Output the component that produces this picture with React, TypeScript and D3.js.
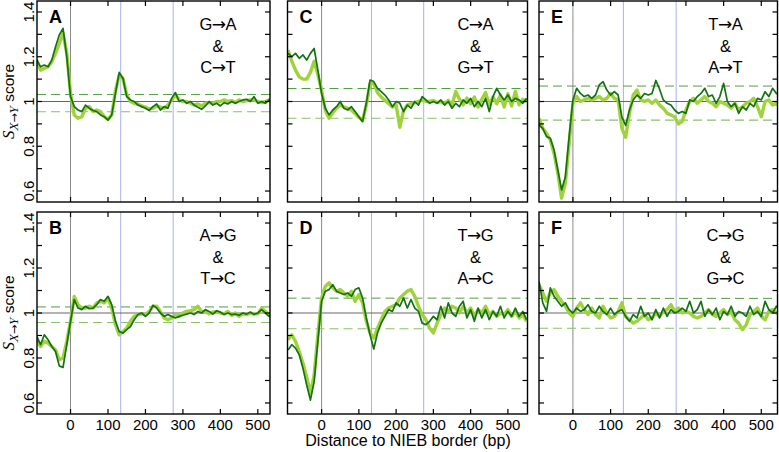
import React from "react";
import * as d3 from "d3";

// ---------- data ----------
const POS = d3.range(-90, 551, 10); // bp positions of the sampled profile

const PANEL_IDS = ["A", "B", "C", "D", "E", "F"];
const MUT_TOP = [["G", "A"], ["A", "G"], ["C", "A"], ["T", "G"], ["T", "A"], ["C", "G"]];
const MUT_BOT = [["C", "T"], ["T", "C"], ["G", "T"], ["A", "C"], ["A", "T"], ["G", "C"]];
const THR_UP = [1.031, 1.027, 1.058, 1.066, 1.069, 1.065];
const THR_LO = [0.954, 0.958, 0.925, 0.93, 0.917, 0.932];
const BLUE_MARKS = [134, 274];
const X_TICKS = [0, 100, 200, 300, 400, 500];
const Y_TICKS = [0.6, 0.7, 0.8, 0.9, 1.0, 1.1, 1.2, 1.3, 1.4];
const Y_LABELS = [0.6, 0.8, 1.0, 1.2, 1.4];

const A_DARK = [
  1.185, 1.155, 1.163, 1.155, 1.185, 1.245, 1.297, 1.327, 1.2, 1.022,
  0.977, 0.962, 0.955, 0.984, 0.97, 0.96, 0.955, 0.94, 0.932, 0.917,
  0.94, 1.036, 1.13, 1.103, 1.022, 1.007, 1.0, 0.984, 0.977, 0.97,
  0.96, 0.977, 0.989, 0.962, 0.977, 0.97, 1.014, 1.04, 1.0, 1.007,
  0.992, 1.0, 0.984, 0.974, 0.965, 0.98, 1.0, 0.984, 0.992, 0.98,
  0.995, 0.989, 1.0, 0.992, 1.0, 1.007, 1.01, 1.0, 1.022, 0.992,
  1.0, 0.992, 1.007, 1.0, 1.0,
];
const A_LIGHT = [
  1.185, 1.14, 1.148, 1.155, 1.178, 1.215, 1.26, 1.305, 1.215, 1.036,
  0.94, 0.925, 0.932, 0.97, 0.977, 0.955, 0.962, 0.955, 0.932, 0.92,
  0.94, 1.05, 1.118, 1.103, 1.03, 1.0, 0.992, 0.989, 0.98, 0.975,
  0.966, 0.97, 0.98, 0.975, 0.97, 0.984, 1.007, 1.03, 1.007, 1.0,
  1.0, 0.992, 0.984, 0.989, 0.98, 0.992, 0.995, 0.992, 1.0, 1.0,
  1.007, 1.0, 1.004, 0.995, 1.007, 1.0, 1.004, 1.007, 1.007, 1.0,
  0.995, 1.0, 1.007, 1.0, 1.0,
];
const B_DARK = [
  0.896, 0.859, 0.903, 0.881, 0.851, 0.829, 0.765, 0.758, 0.859, 0.963,
  1.06, 1.022, 1.015, 1.03, 1.019, 1.022, 1.037, 1.06, 1.052, 1.074,
  1.037, 0.963, 0.918, 0.911, 0.926, 0.94, 0.97, 0.993, 1.0, 0.985,
  1.0, 1.034, 1.022, 1.0, 0.985, 0.993, 0.985, 0.978, 0.985, 0.99,
  0.995, 1.0, 0.993, 1.007, 1.0, 1.015, 1.007, 0.995, 1.01, 1.004,
  0.993, 1.0, 0.993, 0.995, 0.99, 1.0, 0.995, 1.004, 0.993, 1.0,
  1.015, 1.0, 0.985, 0.99, 0.995,
];
const B_LIGHT = [
  0.88, 0.851, 0.874, 0.866, 0.851, 0.836, 0.792, 0.8, 0.874, 0.963,
  1.074, 1.037, 1.022, 1.022, 1.03, 1.022, 1.045, 1.052, 1.045, 1.067,
  1.022, 0.948, 0.903, 0.918, 0.933, 0.963, 0.985, 0.993, 0.996, 0.993,
  1.007, 1.03, 1.03, 1.007, 0.978, 0.97, 0.978, 0.993, 0.985, 1.0,
  1.007, 1.01, 1.015, 1.03, 1.007, 1.007, 0.996, 1.004, 1.007, 1.0,
  0.996, 1.007, 0.99, 1.0, 0.985, 0.996, 0.993, 1.0, 0.996, 0.996,
  1.022, 1.007, 0.993, 0.99, 0.995,
];
const C_DARK = [
  1.215, 1.2, 1.215, 1.193, 1.208, 1.185, 1.215, 1.237, 1.14, 1.036,
  0.97, 0.94, 0.962, 0.977, 1.0, 0.97, 0.962, 0.977, 0.955, 0.932,
  0.91, 0.992, 1.096, 1.089, 1.059, 1.044, 1.029, 1.007, 0.977, 1.0,
  0.992, 0.955, 0.984, 0.97, 1.0, 0.984, 1.022, 1.007, 0.992, 1.0,
  0.992, 1.007, 0.984, 1.0, 0.97, 0.992, 0.977, 1.007, 0.992, 1.014,
  0.977, 1.0, 0.977, 1.014, 0.955, 1.022, 1.059, 1.029, 1.007, 1.029,
  1.0, 1.014, 1.007, 0.992, 1.014,
];
const C_LIGHT = [
  1.23, 1.18, 1.14, 1.11, 1.1, 1.1, 1.13, 1.18, 1.12, 1.05,
  0.96, 0.925, 0.95, 0.97, 0.985, 0.975, 0.97, 0.962, 0.945, 0.93,
  0.915, 0.985, 1.08, 1.08, 1.04, 1.02, 1.005, 0.99, 0.975, 0.985,
  0.885, 0.96, 0.985, 0.99, 0.995, 1.0, 1.007, 1.0, 1.0, 1.005,
  0.995, 1.0, 0.99, 1.005, 0.985, 1.045, 1.01, 0.985, 1.015, 0.99,
  1.02, 0.975, 1.01, 1.04, 0.985, 1.02, 0.99, 1.03, 0.975, 1.035,
  0.98, 1.045, 0.985, 1.01, 1.0,
];
const D_DARK = [
  0.836, 0.859, 0.844, 0.814, 0.754, 0.68, 0.613, 0.695, 0.874, 1.052,
  1.097, 1.104, 1.126, 1.097, 1.089, 1.082, 1.089, 1.074, 1.104, 1.112,
  1.067, 0.978, 0.903, 0.84, 0.911, 0.955, 0.985, 1.015, 1.007, 1.045,
  1.03, 1.067, 1.022, 1.06, 1.022, 1.007, 0.955, 0.948, 0.963, 0.985,
  0.97, 1.03, 0.978, 1.045, 1.0, 0.985, 1.03, 1.052, 0.978, 1.015,
  0.963, 1.022, 0.978, 1.015, 0.97, 1.007, 0.985, 1.03, 0.978, 1.007,
  0.985, 1.022, 0.985, 1.007, 0.97,
];
const D_LIGHT = [
  0.881, 0.903, 0.874, 0.829, 0.777, 0.717, 0.643, 0.725, 0.903, 1.067,
  1.119, 1.134, 1.112, 1.097, 1.104, 1.089, 1.074, 1.097, 1.052, 1.082,
  1.045, 0.963, 0.911, 0.888, 0.933, 0.97, 1.007, 1.022, 1.03, 1.037,
  1.067, 1.082, 1.097, 1.104, 1.074, 1.03, 0.993, 0.97, 0.933, 0.911,
  0.955, 0.993, 1.022, 1.007, 1.03, 1.022, 1.0, 1.03, 1.0, 1.022,
  0.985, 1.015, 1.0, 1.03, 0.993, 1.007, 0.985, 1.0, 0.993, 1.015,
  0.985, 1.007, 0.978, 0.993, 0.963,
];
const E_DARK = [
  0.895, 0.88, 0.843, 0.836, 0.783, 0.694, 0.605, 0.664, 0.843, 1.007,
  1.059, 1.036, 1.022, 1.029, 1.014, 1.029, 1.074, 1.089, 1.051, 1.029,
  1.044, 1.029, 0.93, 0.893, 0.962, 1.007, 1.029, 1.014, 1.036, 1.029,
  1.036, 1.094, 1.055, 1.007, 0.992, 0.984, 0.962, 0.947, 0.955, 0.947,
  1.007, 1.0, 1.022, 1.036, 1.059, 1.022, 1.029, 0.992, 1.022, 1.081,
  1.0, 0.977, 0.992, 0.947, 0.977, 0.962, 0.992, 0.977, 1.014, 1.007,
  1.044, 1.022, 1.059, 1.036, 1.029,
];
const E_LIGHT = [
  0.925, 0.88, 0.858, 0.828, 0.768, 0.679, 0.568, 0.635, 0.813, 0.992,
  1.022, 1.0, 1.007, 1.014, 1.007, 1.014, 1.022, 1.007, 1.014, 1.036,
  1.014, 1.007, 0.88, 0.84, 0.947, 1.029, 1.051, 1.007, 1.0, 1.007,
  0.992, 1.007, 0.984, 0.97, 0.947, 0.94, 0.932, 0.9, 0.91, 0.962,
  1.0, 1.014, 0.992, 1.007, 1.022, 1.0, 0.992, 0.977, 1.0, 0.992,
  0.984, 0.97, 0.992, 0.962, 0.977, 0.992, 1.0, 1.014, 0.977, 0.932,
  1.0, 1.007, 0.984, 0.992, 0.984,
];
const F_DARK = [
  1.141, 1.045, 1.007, 1.112, 1.074, 1.052, 1.03, 1.045, 1.015, 1.0,
  1.022, 1.007, 1.015, 1.037, 1.007, 1.0, 1.03, 1.007, 0.993, 1.022,
  0.993, 1.007, 1.015, 0.985, 0.963, 0.993, 0.978, 1.03, 0.985, 1.0,
  0.97, 1.015, 0.978, 1.022, 0.985, 1.015, 1.0, 1.007, 1.022, 1.007,
  1.052, 1.0, 1.015, 1.052, 0.985, 1.015, 0.993, 1.022, 0.97, 1.007,
  0.993, 1.03, 0.985, 1.007, 1.0, 0.985, 1.03, 0.993, 1.007, 0.985,
  1.052, 1.015, 1.0, 1.03, 1.007,
];
const F_LIGHT = [
  1.126, 1.089, 1.052, 1.089, 1.104, 1.074, 1.052, 1.03, 1.0, 0.985,
  1.022, 1.045, 1.015, 0.993, 1.022, 0.993, 0.978, 1.03, 1.0, 0.978,
  0.985, 1.007, 1.045, 0.985, 0.97, 0.955, 0.963, 0.978, 0.993, 0.97,
  0.978, 1.0, 0.985, 1.007, 1.015, 1.037, 1.007, 1.022, 1.0, 1.007,
  1.0, 0.985, 0.978, 0.985, 1.0, 1.015, 0.993, 0.985, 1.0, 1.015,
  0.993, 1.007, 0.97, 0.955, 0.926, 0.948, 0.993, 1.007, 1.022, 0.985,
  0.97, 1.007, 1.015, 1.0, 1.007,
];

const LIGHT = [A_LIGHT, B_LIGHT, C_LIGHT, D_LIGHT, E_LIGHT, F_LIGHT];
const DARK = [A_DARK, B_DARK, C_DARK, D_DARK, E_DARK, F_DARK];

// ---------- layout ----------
const W = 779;
const H = 452;
const COLS = [
  { left: 37, right: 270, d0: -89.5, d1: 532.5 },
  { left: 287.5, right: 527.5, d0: -91.5, d1: 552.6 },
  { left: 539, right: 777.5, d0: -90, d1: 543 },
];
const ROWS = [
  { top: 1, bottom: 202 },
  { top: 212, bottom: 414 },
];
const Y_DOMAIN = [0.551, 1.449];

const LIGHT_COLOR = "#a0d23c";
const DARK_COLOR = "#147214";
const FONT = "'Liberation Sans', Arial, Helvetica, sans-serif";

function Mut({ x, y, pair }: { x: number; y: number; pair: string[] }) {
  return (
    <text x={x} y={y} textAnchor="middle" fontSize={16.5} fontFamily={FONT}>
      {pair[0]}
      <tspan fontFamily="'DejaVu Sans', sans-serif" fontSize={17} dx={-0.5}>
        {"→"}
      </tspan>
      <tspan dx={-0.5}>{pair[1]}</tspan>
    </text>
  );
}

function Panel({ idx }: { idx: number }) {
  const col = COLS[Math.floor(idx / 2)];
  const row = ROWS[idx % 2];
  const isBottom = idx % 2 === 1;
  const isLeft = Math.floor(idx / 2) === 0;
  const x = d3.scaleLinear().domain([col.d0, col.d1]).range([col.left, col.right]);
  const y = d3.scaleLinear().domain(Y_DOMAIN).range([row.bottom, row.top]);
  const line = d3
    .line<number>()
    .x((_, i) => x(POS[i]))
    .y((d) => y(d));
  const clipId = `clip-${idx}`;
  const tick = 5;
  const labelX = col.right - 52;
  return (
    <g>
      <defs>
        <clipPath id={clipId}>
          <rect x={col.left} y={row.top} width={col.right - col.left} height={row.bottom - row.top} />
        </clipPath>
      </defs>
      <g clipPath={`url(#${clipId})`}>
        {BLUE_MARKS.map((m) => (
          <line key={m} x1={x(m)} x2={x(m)} y1={row.top} y2={row.bottom} stroke="#aab0f0" strokeWidth={1} />
        ))}
        <line x1={x(0)} x2={x(0)} y1={row.top} y2={row.bottom} stroke="#8a8a8a" strokeWidth={1} />
        <line x1={col.left} x2={col.right} y1={y(1)} y2={y(1)} stroke="#555" strokeWidth={0.9} />
        <line x1={col.left} x2={col.right} y1={y(THR_UP[idx])} y2={y(THR_UP[idx])} stroke="#4f9f3c" strokeWidth={1} strokeDasharray="9,5" />
        <line x1={col.left} x2={col.right} y1={y(THR_LO[idx])} y2={y(THR_LO[idx])} stroke="#86c266" strokeWidth={1.1} strokeDasharray="9,5" />
        <path d={line(LIGHT[idx]) || ""} fill="none" stroke={LIGHT_COLOR} strokeWidth={3.4} strokeLinejoin="round" />
        <path d={line(DARK[idx]) || ""} fill="none" stroke={DARK_COLOR} strokeWidth={1.7} strokeLinejoin="round" />
      </g>
      {X_TICKS.map((t) => (
        <g key={"xt" + t}>
          <line x1={x(t)} x2={x(t)} y1={row.bottom} y2={row.bottom - tick} stroke="#000" strokeWidth={1.2} />
          <line x1={x(t)} x2={x(t)} y1={row.top} y2={row.top + tick} stroke="#000" strokeWidth={1.2} />
        </g>
      ))}
      {Y_TICKS.map((t) => (
        <g key={"yt" + t}>
          <line x1={col.left} x2={col.left + tick} y1={y(t)} y2={y(t)} stroke="#000" strokeWidth={1.2} />
          <line x1={col.right} x2={col.right - tick} y1={y(t)} y2={y(t)} stroke="#000" strokeWidth={1.2} />
        </g>
      ))}
      <rect x={col.left} y={row.top} width={col.right - col.left} height={row.bottom - row.top} fill="none" stroke="#000" strokeWidth={1.4} />
      {isBottom &&
        X_TICKS.map((t) => (
          <text key={"xl" + t} x={x(t)} y={430} textAnchor="middle" fontSize={15} fontFamily={FONT}>
            {t}
          </text>
        ))}
      {isLeft &&
        Y_LABELS.map((t) => (
          <text
            key={"yl" + t}
            transform={`translate(33.5,${y(t)}) rotate(-90)`}
            textAnchor="middle"
            fontSize={15}
            fontFamily={FONT}
          >
            {t === 1 ? "1" : d3.format(".1f")(t)}
          </text>
        ))}
      <text x={col.left + 12} y={row.top + 22} fontSize={18} fontWeight="bold" fontFamily={FONT}>
        {PANEL_IDS[idx]}
      </text>
      <Mut x={labelX} y={row.top + 29} pair={MUT_TOP[idx]} />
      <text x={labelX} y={row.top + 50.5} textAnchor="middle" fontSize={16.5} fontFamily={FONT}>
        &amp;
      </text>
      <Mut x={labelX} y={row.top + 72} pair={MUT_BOT[idx]} />
    </g>
  );
}

function YTitle({ cy }: { cy: number }) {
  const serif = "'Liberation Serif', 'DejaVu Serif', serif";
  return (
    <text transform={`translate(14,${cy}) rotate(-90)`} textAnchor="middle" fontSize={15.5} fontFamily={FONT}>
      <tspan fontFamily={serif} fontStyle="italic" fontSize={17}>S</tspan>
      <tspan fontFamily={serif} fontStyle="italic" fontSize={13} dy={4}>
        {"X"}
      </tspan>
      <tspan fontFamily="'DejaVu Sans', sans-serif" fontSize={11}>{"→"}</tspan>
      <tspan fontFamily={serif} fontStyle="italic" fontSize={13}>
        {"Y"}
      </tspan>
      <tspan dy={-4}>{" score"}</tspan>
    </text>
  );
}

export default function App() {
  return (
    <svg
      width={W}
      height={H}
      viewBox={`0 0 ${W} ${H}`}
      style={{ position: "absolute", left: 0, top: 0, background: "#fff" }}
    >
      <rect x={0} y={0} width={W} height={H} fill="#fff" />
      {PANEL_IDS.map((_, i) => (
        <Panel key={i} idx={i} />
      ))}
      <YTitle cy={(ROWS[0].top + ROWS[0].bottom) / 2} />
      <YTitle cy={(ROWS[1].top + ROWS[1].bottom) / 2} />
      <text x={408} y={446} textAnchor="middle" fontSize={16} fontFamily={FONT}>
        Distance to NIEB border (bp)
      </text>
    </svg>
  );
}
